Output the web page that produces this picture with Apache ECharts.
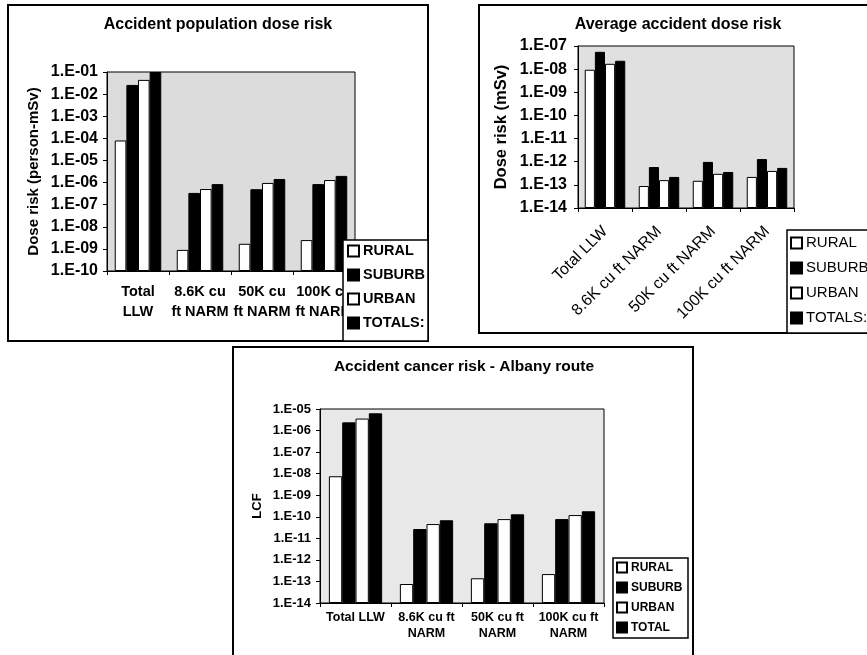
<!DOCTYPE html>
<html><head><meta charset="utf-8">
<script src="https://cdn.jsdelivr.net/npm/echarts@6/dist/echarts.min.js"></script>
<style>html,body{margin:0;padding:0;background:#fff;}#c{width:867px;height:655px;}</style>
</head><body><div id="c"></div>
<script>
// ---------- data ----------
const seriesNamesA = ['RURAL', 'SUBURB', 'URBAN', 'TOTALS:'];
const seriesNamesC = ['RURAL', 'SUBURB', 'URBAN', 'TOTAL'];

const categories1 = ['Total\nLLW', '8.6K cu\nft NARM', '50K cu\nft NARM', '100K cu\nft NARM'];
const categories2 = ['Total LLW', '8.6K cu ft NARM', '50K cu ft NARM', '100K cu ft NARM'];
const categories3 = ['Total LLW', '8.6K cu ft\nNARM', '50K cu ft\nNARM', '100K cu ft\nNARM'];

// Accident population dose risk (person-mSv)
const popRural  = [8e-5, 9e-10, 1.7e-9, 2.5e-9];
const popSuburb = [2.6e-2, 3.4e-7, 5e-7, 8.5e-7];
const popUrban  = [4.4e-2, 5.1e-7, 9.6e-7, 1.3e-6];
const popTotals = [1e-1, 8.5e-7, 1.45e-6, 2e-6];

// Average accident dose risk (mSv)
const avgRural  = [9.4e-9, 8.9e-14, 1.5e-13, 2.2e-13];
const avgSuburb = [5.6e-8, 5.9e-13, 9.8e-13, 1.3e-12];
const avgUrban  = [1.7e-8, 1.6e-13, 3e-13, 4e-13];
const avgTotals = [2.3e-8, 2.2e-13, 3.6e-13, 5.4e-13];

// Accident cancer risk - Albany route (LCF)
const lcfRural  = [7.6e-9, 7.6e-14, 1.4e-13, 2.2e-13];
const lcfSuburb = [2.4e-6, 2.7e-11, 5e-11, 7.8e-11];
const lcfUrban  = [3.6e-6, 4.6e-11, 7.8e-11, 1.2e-10];
const lcfTotal  = [6.3e-6, 6.9e-11, 1.3e-10, 1.8e-10];

const ticks1 = ['1.E-10','1.E-09','1.E-08','1.E-07','1.E-06','1.E-05','1.E-04','1.E-03','1.E-02','1.E-01'];
const ticks2 = ['1.E-14','1.E-13','1.E-12','1.E-11','1.E-10','1.E-09','1.E-08','1.E-07'];
const ticks3 = ['1.E-14','1.E-13','1.E-12','1.E-11','1.E-10','1.E-09','1.E-08','1.E-07','1.E-06','1.E-05'];

const titles = ['Accident population dose risk', 'Average accident dose risk', 'Accident cancer risk - Albany route'];
const yNames = ['Dose risk (person-mSv)', 'Dose risk (mSv)', 'LCF'];

// ---------- helpers ----------
const FONT = '"Liberation Sans", Arial, sans-serif';
function expOf(label) { return parseInt(label.split('E')[1], 10); }
function logAxis(gridIndex, ticks, name, nameGap, fontSize, nameSize, margin) {
  const lo = expOf(ticks[0]);
  const minV = Math.pow(10, lo);
  return {
    type: 'log', logBase: 10, gridIndex,
    min: minV, max: Math.pow(10, expOf(ticks[ticks.length - 1])),
    startValue: minV,
    interval: 1,
    name, nameLocation: 'middle', nameGap,
    nameTextStyle: { fontFamily: FONT, fontWeight: 'bold', fontSize: nameSize, color: '#000' },
    axisLine: { show: true, lineStyle: { color: '#000', width: 1 } },
    axisTick: { show: true, length: 4, lineStyle: { color: '#000' } },
    minorTick: { show: false },
    splitLine: { show: false },
    axisLabel: {
      margin, fontFamily: FONT, fontWeight: 'bold', fontSize: fontSize, color: '#000',
      formatter: v => ticks[Math.round(Math.log10(v)) - lo]
    }
  };
}
function catAxis(gridIndex, data, fontSize, margin, rotate, weight, lineHeight) {
  return {
    type: 'category', gridIndex, data,
    axisLine: { show: true, lineStyle: { color: '#000', width: 1 } },
    axisTick: { show: true, length: 4, lineStyle: { color: '#000' } },
    axisLabel: { margin, rotate, interval: 0, fontFamily: FONT, fontWeight: weight, fontSize, color: '#000', lineHeight }
  };
}
const whiteStyle = { color: '#fff', borderColor: '#000', borderWidth: 1 };
const blackStyle = { color: '#000', borderColor: '#000', borderWidth: 1 };
function bars(axisIndex, names, arrays) {
  return arrays.map((d, i) => ({
    type: 'bar', name: names[i], xAxisIndex: axisIndex, yAxisIndex: axisIndex, data: d,
    barGap: '0%', barCategoryGap: '25%',
    itemStyle: i % 2 === 0 ? whiteStyle : blackStyle,
    emphasis: { disabled: true }, animation: false
  }));
}
function legend(left, top, names, fontSize, weight, itemGap, iconSize, lineHeight) {
  return {
    left, top, orient: 'vertical', padding: 0, itemGap, itemWidth: iconSize, itemHeight: iconSize,
    icon: 'rect', selectedMode: false, data: names, z: 20,
    textStyle: { fontFamily: FONT, fontSize, fontWeight: weight, color: '#000', lineHeight, padding: [0, 0, 0, -1] }
  };
}
function box(x, y, w, h, lw, z, fill) {
  return { type: 'rect', z, silent: true, shape: { x, y, width: w, height: h },
    style: { fill: fill || 'none', stroke: '#000', lineWidth: lw } };
}
function titleText(x, y, text, fontSize) {
  return { type: 'text', x, y, z: 5, silent: true,
    style: { text, fill: '#000', align: 'center', verticalAlign: 'middle',
      font: 'bold ' + fontSize + 'px ' + FONT } };
}

const chart = echarts.init(document.getElementById('c'), null, { renderer: 'canvas' });
chart.setOption({
  backgroundColor: '#fff',
  animation: false,
  grid: [
    { left: 107, top: 72, width: 248, height: 199, show: true, backgroundColor: '#dcdcdc', borderColor: '#000', borderWidth: 1 },
    { left: 578, top: 46, width: 216, height: 162, show: true, backgroundColor: '#e0e0e0', borderColor: '#000', borderWidth: 1 },
    { left: 320, top: 409, width: 284, height: 194, show: true, backgroundColor: '#e8e8e8', borderColor: '#000', borderWidth: 1 }
  ],
  xAxis: [
    catAxis(0, categories1, 14.5, 11, 0, 'bold', 20),
    catAxis(1, categories2, 16, 21, 45, 'normal', 16),
    catAxis(2, categories3, 12.5, 7, 0, 'bold', 16)
  ],
  yAxis: [
    logAxis(0, ticks1, yNames[0], 66, 16, 15, 9),
    logAxis(1, ticks2, yNames[1], 68, 16, 16.5, 11),
    logAxis(2, ticks3, yNames[2], 56, 13, 13, 9)
  ],
  legend: [
    legend(347, 243, seriesNamesA, 14.5, 'bold', 8, 11, 16),
    legend(790, 235, seriesNamesA, 15, 'normal', 9, 11, 16),
    legend(616, 561, seriesNamesC, 12, 'bold', 7, 10, 13)
  ],
  series: [].concat(
    bars(0, seriesNamesA, [popRural, popSuburb, popUrban, popTotals]),
    bars(1, seriesNamesA, [avgRural, avgSuburb, avgUrban, avgTotals]),
    bars(2, seriesNamesC, [lcfRural, lcfSuburb, lcfUrban, lcfTotal])
  ),
  graphic: [
    box(8, 5, 420, 336, 2, 1),
    box(479, 5, 400, 328, 2, 1),
    box(233, 347, 460, 320, 2, 1),
    box(343, 240, 85, 101, 1.5, 15, '#fff'),
    box(787, 230, 100, 103, 1.5, 15, '#fff'),
    box(613, 558, 75, 80, 1.5, 15, '#fff'),
    titleText(218, 25, titles[0], 16),
    titleText(678, 25, titles[1], 16),
    titleText(464, 367, titles[2], 15.5)
  ]
});
</script></body></html>
